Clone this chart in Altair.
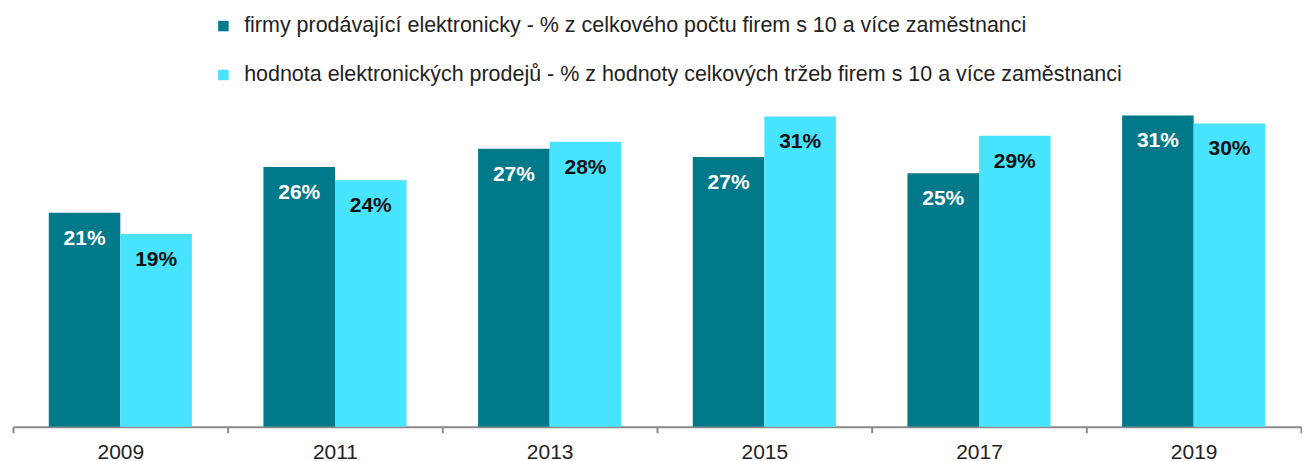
import altair as alt
import pandas as pd

years = ["2009", "2011", "2013", "2015", "2017", "2019"]
series_names = [
    "firmy prodávající elektronicky -  % z celkového počtu firem s 10 a více zaměstnanci",
    "hodnota elektronických prodejů - % z hodnoty celkových tržeb firem s 10 a více zaměstnanci",
]
firms_pct = [21.1, 25.6, 27.4, 26.6, 25.0, 30.7]
sales_pct = [19.0, 24.3, 28.1, 30.6, 28.7, 29.9]
colors = ["#00798B", "#47E3FF"]

rows = []
for i, y in enumerate(years):
    for name, vals in zip(series_names, [firms_pct, sales_pct]):
        v = vals[i]
        rows.append({"year": y, "series": name, "value": v, "label": f"{round(v)}%"})
df = pd.DataFrame(rows)

FONT = "Liberation Sans"

x = alt.X("year:N", sort=years,
          scale=alt.Scale(paddingInner=0, paddingOuter=0),
          axis=alt.Axis(title=None, labelAngle=0, tickBand="extent", labelFontSize=21,
                        labelColor="#222222", labelFont=FONT, labelPadding=9,
                        domainColor="#8a8a8a", domainWidth=2, tickColor="#8a8a8a",
                        tickWidth=2, tickSize=6, grid=False))
xoff = alt.XOffset("series:N", sort=series_names, scale=alt.Scale(paddingOuter=0.5, paddingInner=0))
y = alt.Y("value:Q", scale=alt.Scale(domain=[0, 32], nice=False), axis=None)

bars = alt.Chart(df).mark_bar().encode(
    x=x, xOffset=xoff, y=y,
    color=alt.Color("series:N", sort=series_names,
                    scale=alt.Scale(domain=series_names, range=colors),
                    legend=alt.Legend(title=None, orient="none", legendX=200, legendY=-87,
                                      direction="vertical", symbolType="square", symbolSize=110,
                                      symbolStrokeWidth=0, labelFontSize=21.5, labelFont=FONT,
                                      labelColor="#222222", labelOffset=10, rowPadding=26,
                                      labelLimit=1200)),
)

texts = alt.Chart(df).mark_text(baseline="middle", align="center", dy=26, fontSize=21,
                                fontWeight="bold", font=FONT).encode(
    x=x, xOffset=xoff, y=y,
    text="label:N",
    color=alt.condition(alt.datum.series == series_names[0], alt.value("white"), alt.value("#111111")),
)

chart = alt.layer(bars, texts).properties(
    width=1290, height=325,
    padding={"left": 4, "top": 7, "right": 0, "bottom": 0},
).configure_view(stroke=None)

chart.save("out.html", embed_options={"renderer": "svg", "actions": False})
